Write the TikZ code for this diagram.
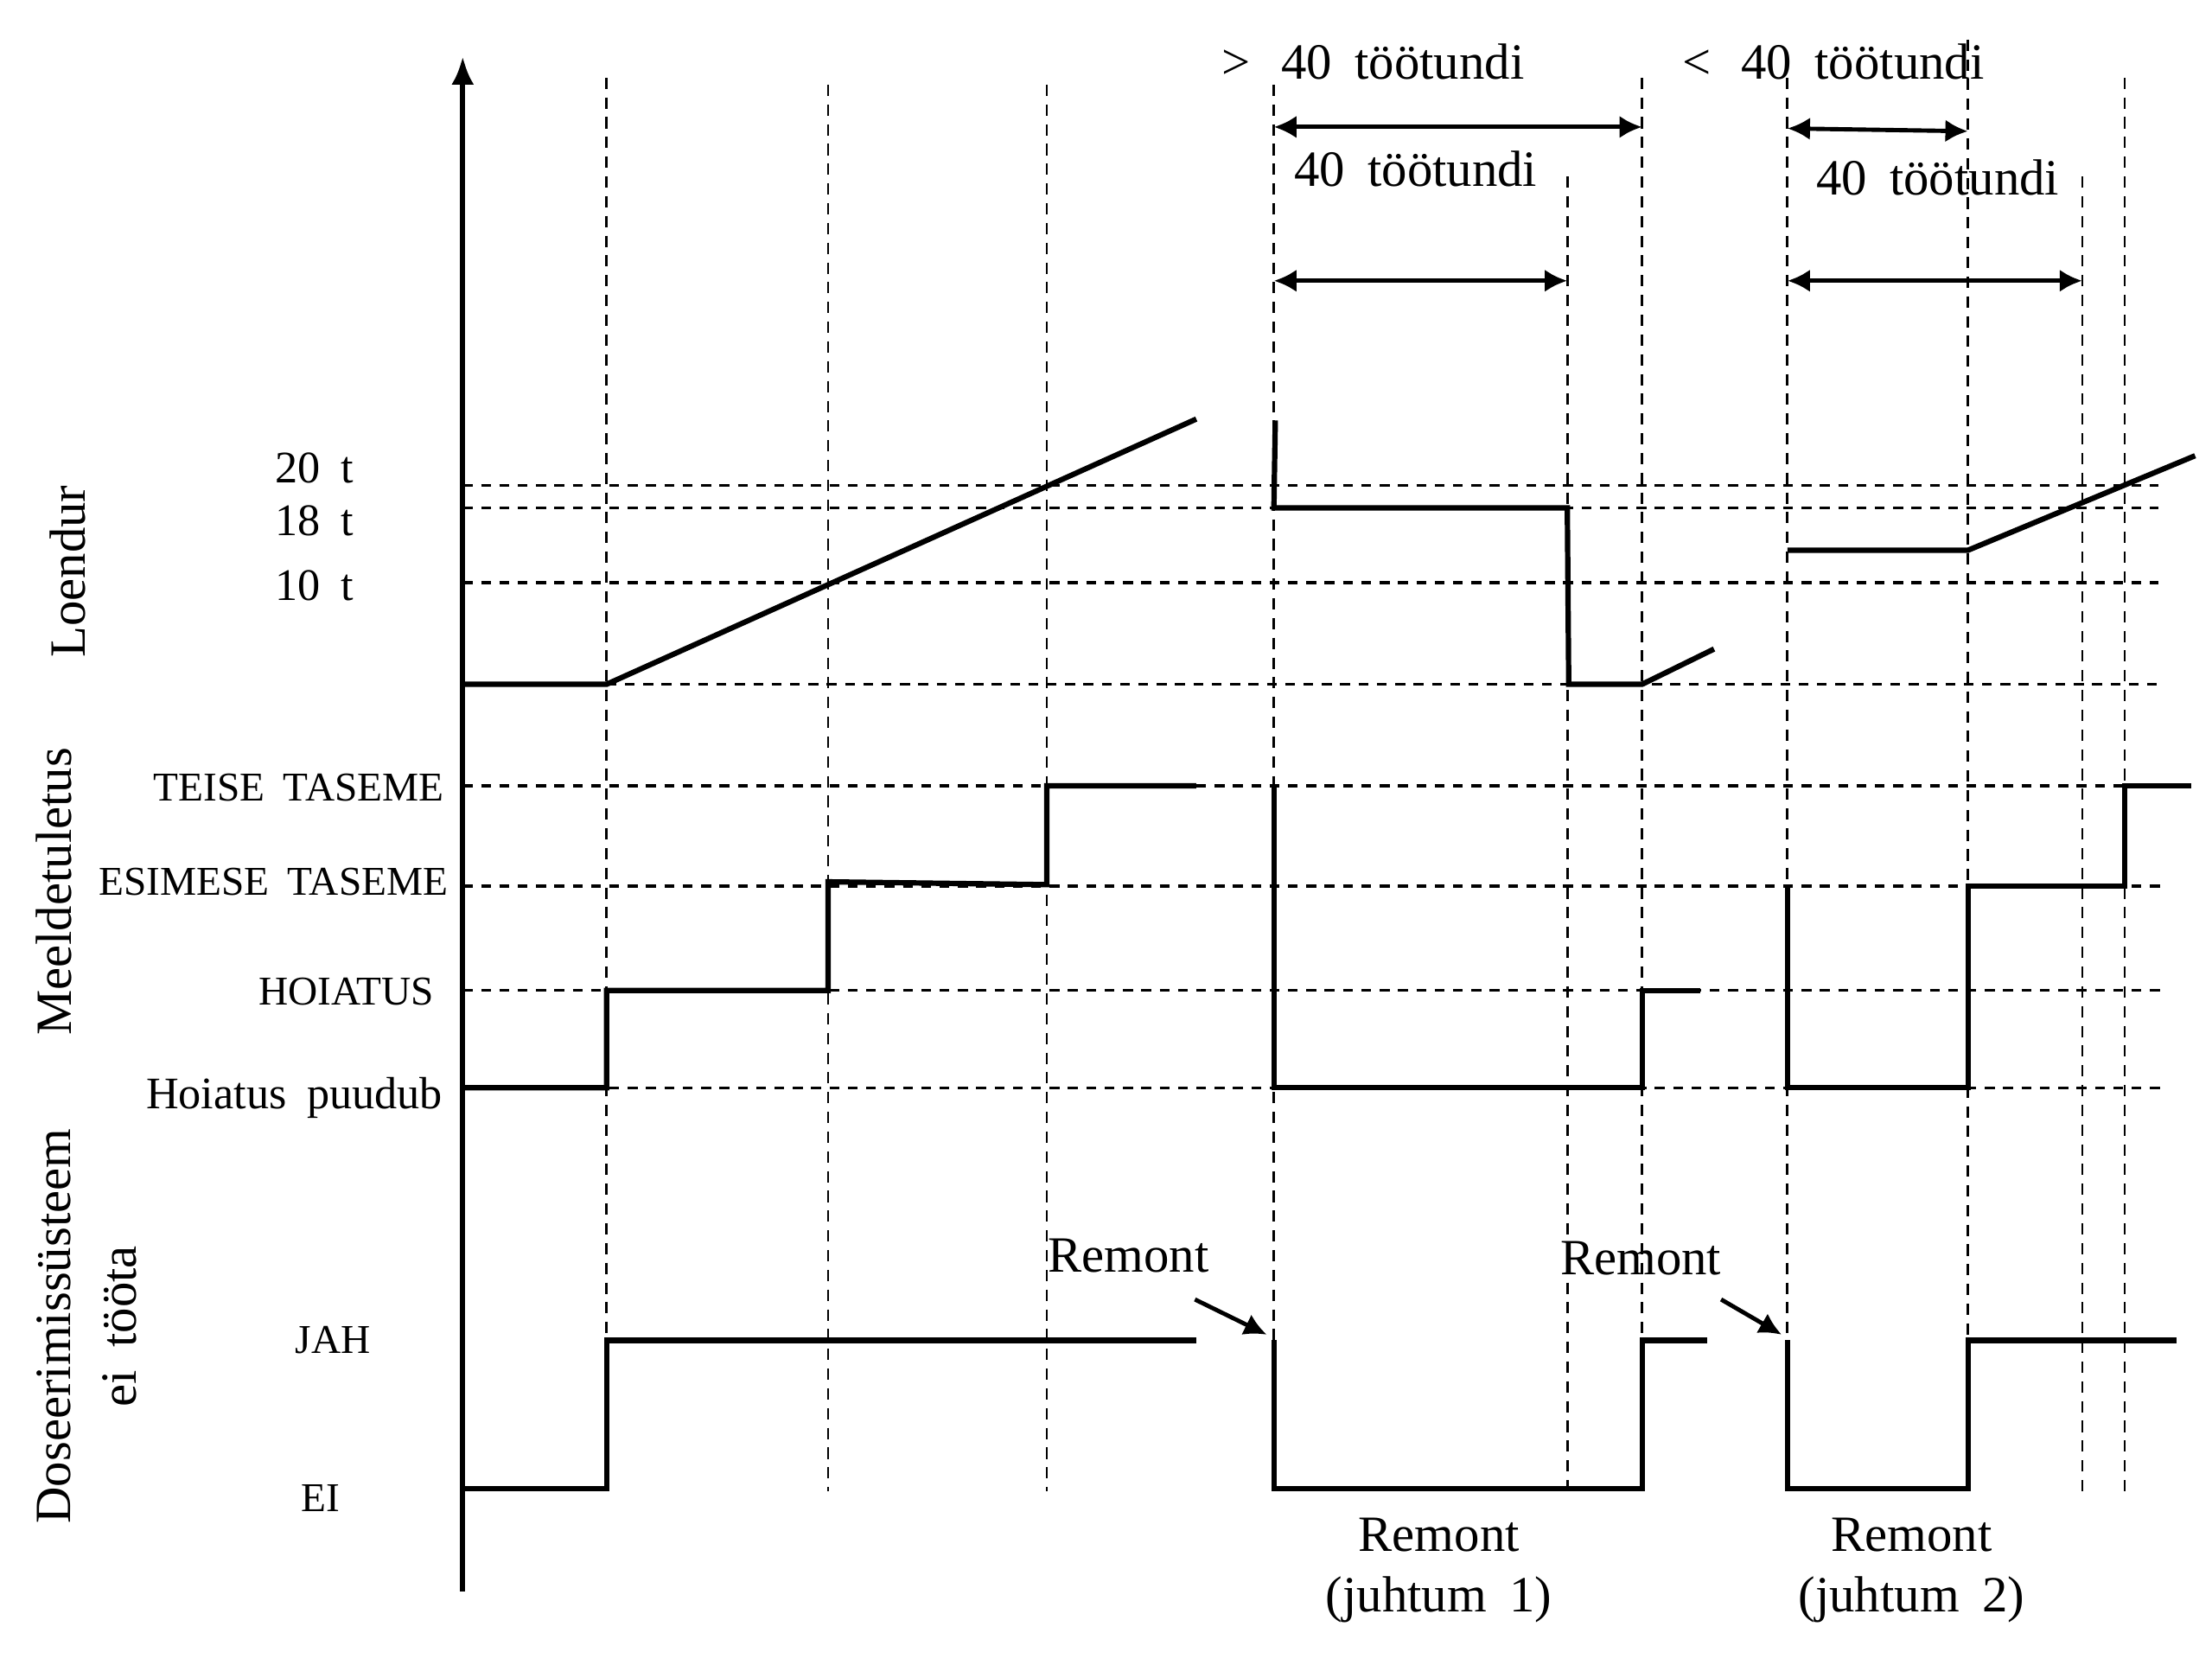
\documentclass[tikz,border=0pt]{standalone}
\usepackage{fontspec}
\setmainfont{Liberation Serif}
\usetikzlibrary{arrows.meta}
\newcommand\ws{\hspace{0.45em}}
\begin{document}
\begin{tikzpicture}[x=0.5pt,y=-0.5pt,
  sig/.style={line width=1.9pt, line join=miter},
  vdash/.style={line width=0.8pt, dash pattern=on 4pt off 3pt},
  hdash/.style={line width=1pt, dash pattern=on 3.5pt off 3pt},
  dimarr/.style={line width=1.5pt, {Latex[length=8pt,width=8pt]}-{Latex[length=8pt,width=8pt]}},
  remarr/.style={line width=1.5pt, -{Latex[length=8pt,width=8pt]}},
  lbl/.style={font=\fontsize{18}{21.5}\selectfont, inner sep=0pt},
  capl/.style={font=\fontsize{14.5}{16}\selectfont, inner sep=0pt},
  numl/.style={font=\fontsize{16}{18}\selectfont, inner sep=0pt}]
\useasboundingbox (0,0) rectangle (1568,1180);
% axis
\coordinate (axb) at (328,1128);
\coordinate (axt) at (328,40);
\draw[line width=1.8pt, -{Latex[length=10pt,width=8pt]}] (axb) -- (axt);
% vertical dashed lines
\foreach \x/\t in {430/55,587/60,742/60,903/60,1111/125,1164/55,1267/55,1395/28,1476/125,1506/55}
  \draw[vdash] (\x,\t) -- (\x,1057);
% horizontal dashed lines
\foreach \y in {344,360,413}
  \draw[hdash] (328,\y) -- (1530,\y);
\draw[hdash] (430,485) -- (1530,485);
\foreach \y in {557,628,702,771}
  \draw[hdash] (328,\y) -- (1532,\y);
% Loendur signal
\draw[sig] (328,485) -- (430,485) -- (848,297);
\draw[sig] (904,298) -- (903,360) -- (1111,360) -- (1112,485) -- (1164,485) -- (1215,460);
\draw[sig] (1267,390) -- (1395,390) -- (1556,323);
% Meeldetuletus signal
\draw[sig] (328,771) -- (430,771) -- (430,702) -- (587,702) -- (587,625) -- (742,627) -- (742,557) -- (848,557);
\draw[sig] (903,557) -- (903,771) -- (1164,771) -- (1164,702) -- (1205,702);
\draw[sig] (1267,628) -- (1267,771) -- (1395,771) -- (1395,628) -- (1506,628) -- (1506,557) -- (1553,557);
% Doseerimissusteem signal
\draw[sig] (328,1055) -- (430,1055) -- (430,950) -- (848,950);
\draw[sig] (903,950) -- (903,1055) -- (1164,1055) -- (1164,950) -- (1210,950);
\draw[sig] (1267,950) -- (1267,1055) -- (1395,1055) -- (1395,950) -- (1543,950);
% dimension arrows
\coordinate (d1a) at (903,90);  \coordinate (d1b) at (1164,90);
\coordinate (d2a) at (903,199); \coordinate (d2b) at (1111,199);
\coordinate (d3a) at (1267,91); \coordinate (d3b) at (1395,93);
\coordinate (d4a) at (1267,199); \coordinate (d4b) at (1476,199);
\draw[dimarr] (d1a) -- (d1b);
\draw[dimarr] (d2a) -- (d2b);
\draw[dimarr] (d3a) -- (d3b);
\draw[dimarr] (d4a) -- (d4b);
% top labels
\node[lbl, anchor=west] (gt40) at (866,44) {>\hspace{0.6em}40\ws töötundi};
\node[lbl, anchor=west] (lt40) at (1192,44) {<\hspace{0.6em}40\ws töötundi};
\node[lbl, anchor=west] (h40a) at (917,120) {40\ws töötundi};
\node[lbl, anchor=west] (h40b) at (1287,126) {40\ws töötundi};
% left value labels
\node[numl] (n20) at (223,332) {20\ws t};
\node[numl] (n18) at (223,369) {18\ws t};
\node[numl] (n10) at (223,415) {10\ws t};
\node[capl, anchor=east] (teise) at (315,558) {TEISE\ws TASEME};
\node[capl, anchor=east] (esim) at (318,625) {ESIMESE\ws TASEME};
\node[capl, anchor=east] (hoi) at (308,703) {HOIATUS};
\node[numl, anchor=east] (hpu) at (314,778) {Hoiatus\ws puudub};
\node[capl] (jah) at (236,950) {JAH};
\node[capl] (ei) at (227,1062) {EI};
% vertical titles
\node[lbl, rotate=90] (loe) at (48,405) {Loendur};
\node[lbl, rotate=90] (mee) at (38,632) {Meeldetuletus};
\node[lbl, rotate=90] (dos) at (38,940) {Doseerimissüsteem};
\node[lbl, rotate=90] (eit) at (85,940) {ei\ws tööta};
% Remont arrows
\node[lbl] (rem1) at (800,890) {Remont};
\node[lbl] (rem2) at (1163,892) {Remont};
\coordinate (r1s) at (847,921); \coordinate (r1e) at (898,946);
\coordinate (r2s) at (1220,921); \coordinate (r2e) at (1263,946);
\draw[remarr] (r1s) -- (r1e);
\draw[remarr] (r2s) -- (r2e);
% bottom labels
\node[lbl, align=center] (case1) at (1020,1113) {Remont\\(juhtum\ws 1)};
\node[lbl, align=center] (case2) at (1355,1113) {Remont\\(juhtum\ws 2)};
\end{tikzpicture}
\end{document}
